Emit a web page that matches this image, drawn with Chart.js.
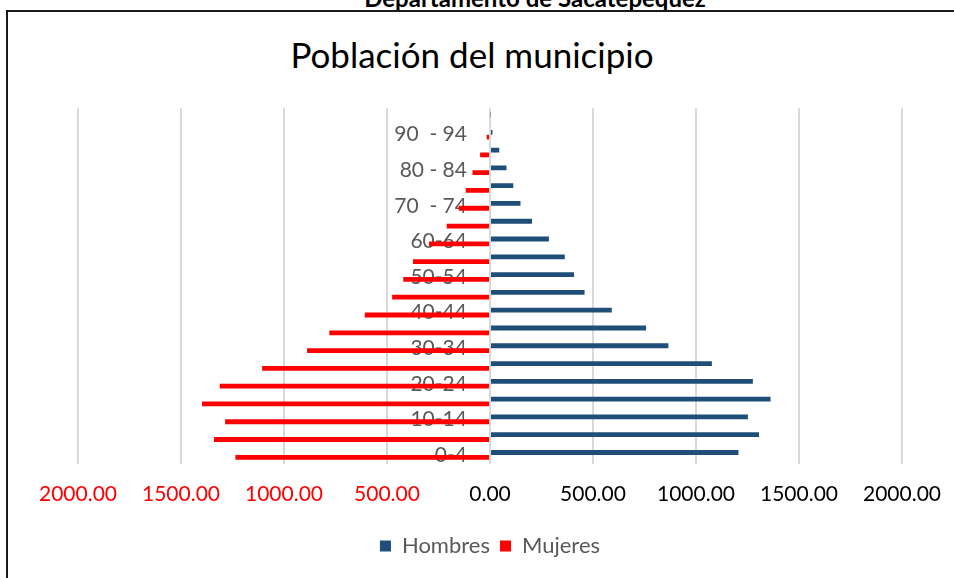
<!DOCTYPE html>
<html>
<head>
<meta charset="utf-8">
<script src="https://cdn.jsdelivr.net/npm/chart.js@4.4.1/dist/chart.umd.min.js"></script>
<style>
  html, body { margin: 0; padding: 0; background: #fff; width: 954px; height: 578px; overflow: hidden; }
  #frame { position: absolute; left: 6px; top: 10px; width: 970px; height: 600px; border: 2px solid #1a1a1a; box-sizing: border-box; }
  #depto { position: absolute; left: 0; top: -14px; width: 1070px; text-align: center; font: bold 24px Lato, sans-serif; color: #000; line-height: 24px; }
  #titulo { position: absolute; left: 0; top: 34px; width: 944px; text-align: center; font: 35px Lato, sans-serif; color: #000; line-height: 40px; }
  #wrap { position: absolute; left: 0; top: 0; width: 954px; height: 578px; }
</style>
</head>
<body>
<div id="depto">Departamento de Sacatepéquez</div>
<div id="frame"></div>
<div id="titulo">Población del municipio</div>
<div id="wrap"><canvas id="piramide"></canvas></div>
<script>
// grupos de edad, de abajo hacia arriba
const grupos = ['0-4', '5-9', '10-14', '15-19', '20-24', '25-29', '30-34', '35-39', '40-44', '45-49',
  '50-54', '55-59', '60-64', '65-69', '70  - 74', '75 - 79', '80 - 84', '85 - 89', '90  - 94', '95 +'];
const hombres = [1206, 1306, 1252, 1362, 1276, 1077, 866, 758, 591, 459,
  408, 363, 286, 204, 148, 113, 80, 45, 12, 3];
const mujeres = [1236, 1340, 1286, 1398, 1312, 1106, 888, 780, 608, 475,
  421, 374, 296, 210, 152, 118, 85, 48, 16, 5];
const ticksX = [-2000, -1500, -1000, -500, 0, 500, 1000, 1500, 2000];

const gris = '#595959';
const fuente = 'Lato, sans-serif';

const ctx = document.getElementById('piramide').getContext('2d');
new Chart(ctx, {
  type: 'bar',
  data: {
    labels: grupos,
    datasets: [{
      label: 'Hombres',
      data: hombres,
      backgroundColor: '#1F4E79',
      categoryPercentage: 0.54,
      barPercentage: 1
    }, {
      label: 'Mujeres',
      data: mujeres.map(v => -v),
      backgroundColor: '#FF0000',
      categoryPercentage: 0.54,
      barPercentage: 1
    }]
  },
  options: {
    indexAxis: 'y',
    responsive: true,
    maintainAspectRatio: false,
    animation: false,
    layout: { padding: { left: 78, right: 52, top: 108, bottom: 11 } },
    plugins: {
      title: { display: false },
      legend: {
        position: 'bottom',
        labels: {
          color: gris,
          boxWidth: 11,
          boxHeight: 11,
          padding: 10,
          font: { family: fuente, size: 22 }
        }
      },
      tooltip: { enabled: false }
    },
    scales: {
      x: {
        min: -2000,
        max: 2000,
        afterBuildTicks: s => { s.ticks = ticksX.map(v => ({ value: v })); },
        // que las etiquetas de los extremos no encojan el área
        afterFit: s => { s.paddingLeft = 0; s.paddingRight = 0; },
        grid: { color: '#D9D9D9', lineWidth: 2, drawTicks: false },
        border: { display: false },
        ticks: {
          padding: 18,
          font: { family: fuente, size: 21 },
          color: c => (c.tick && c.tick.value < 0 ? '#FF0000' : '#000000'),
          callback: v => Math.abs(v).toFixed(2)
        }
      },
      y: {
        // etiquetas un poco a la izquierda del eje cero
        position: { x: -112 },
        reverse: true,
        grid: { display: false, drawTicks: false },
        border: { display: false },
        ticks: {
          autoSkip: false,
          color: gris,
          font: { family: fuente, size: 21 },
          callback: function (v, i) { return i % 2 === 0 ? this.getLabelForValue(v) : ''; }
        }
      }
    }
  }
});
</script>
</body>
</html>
